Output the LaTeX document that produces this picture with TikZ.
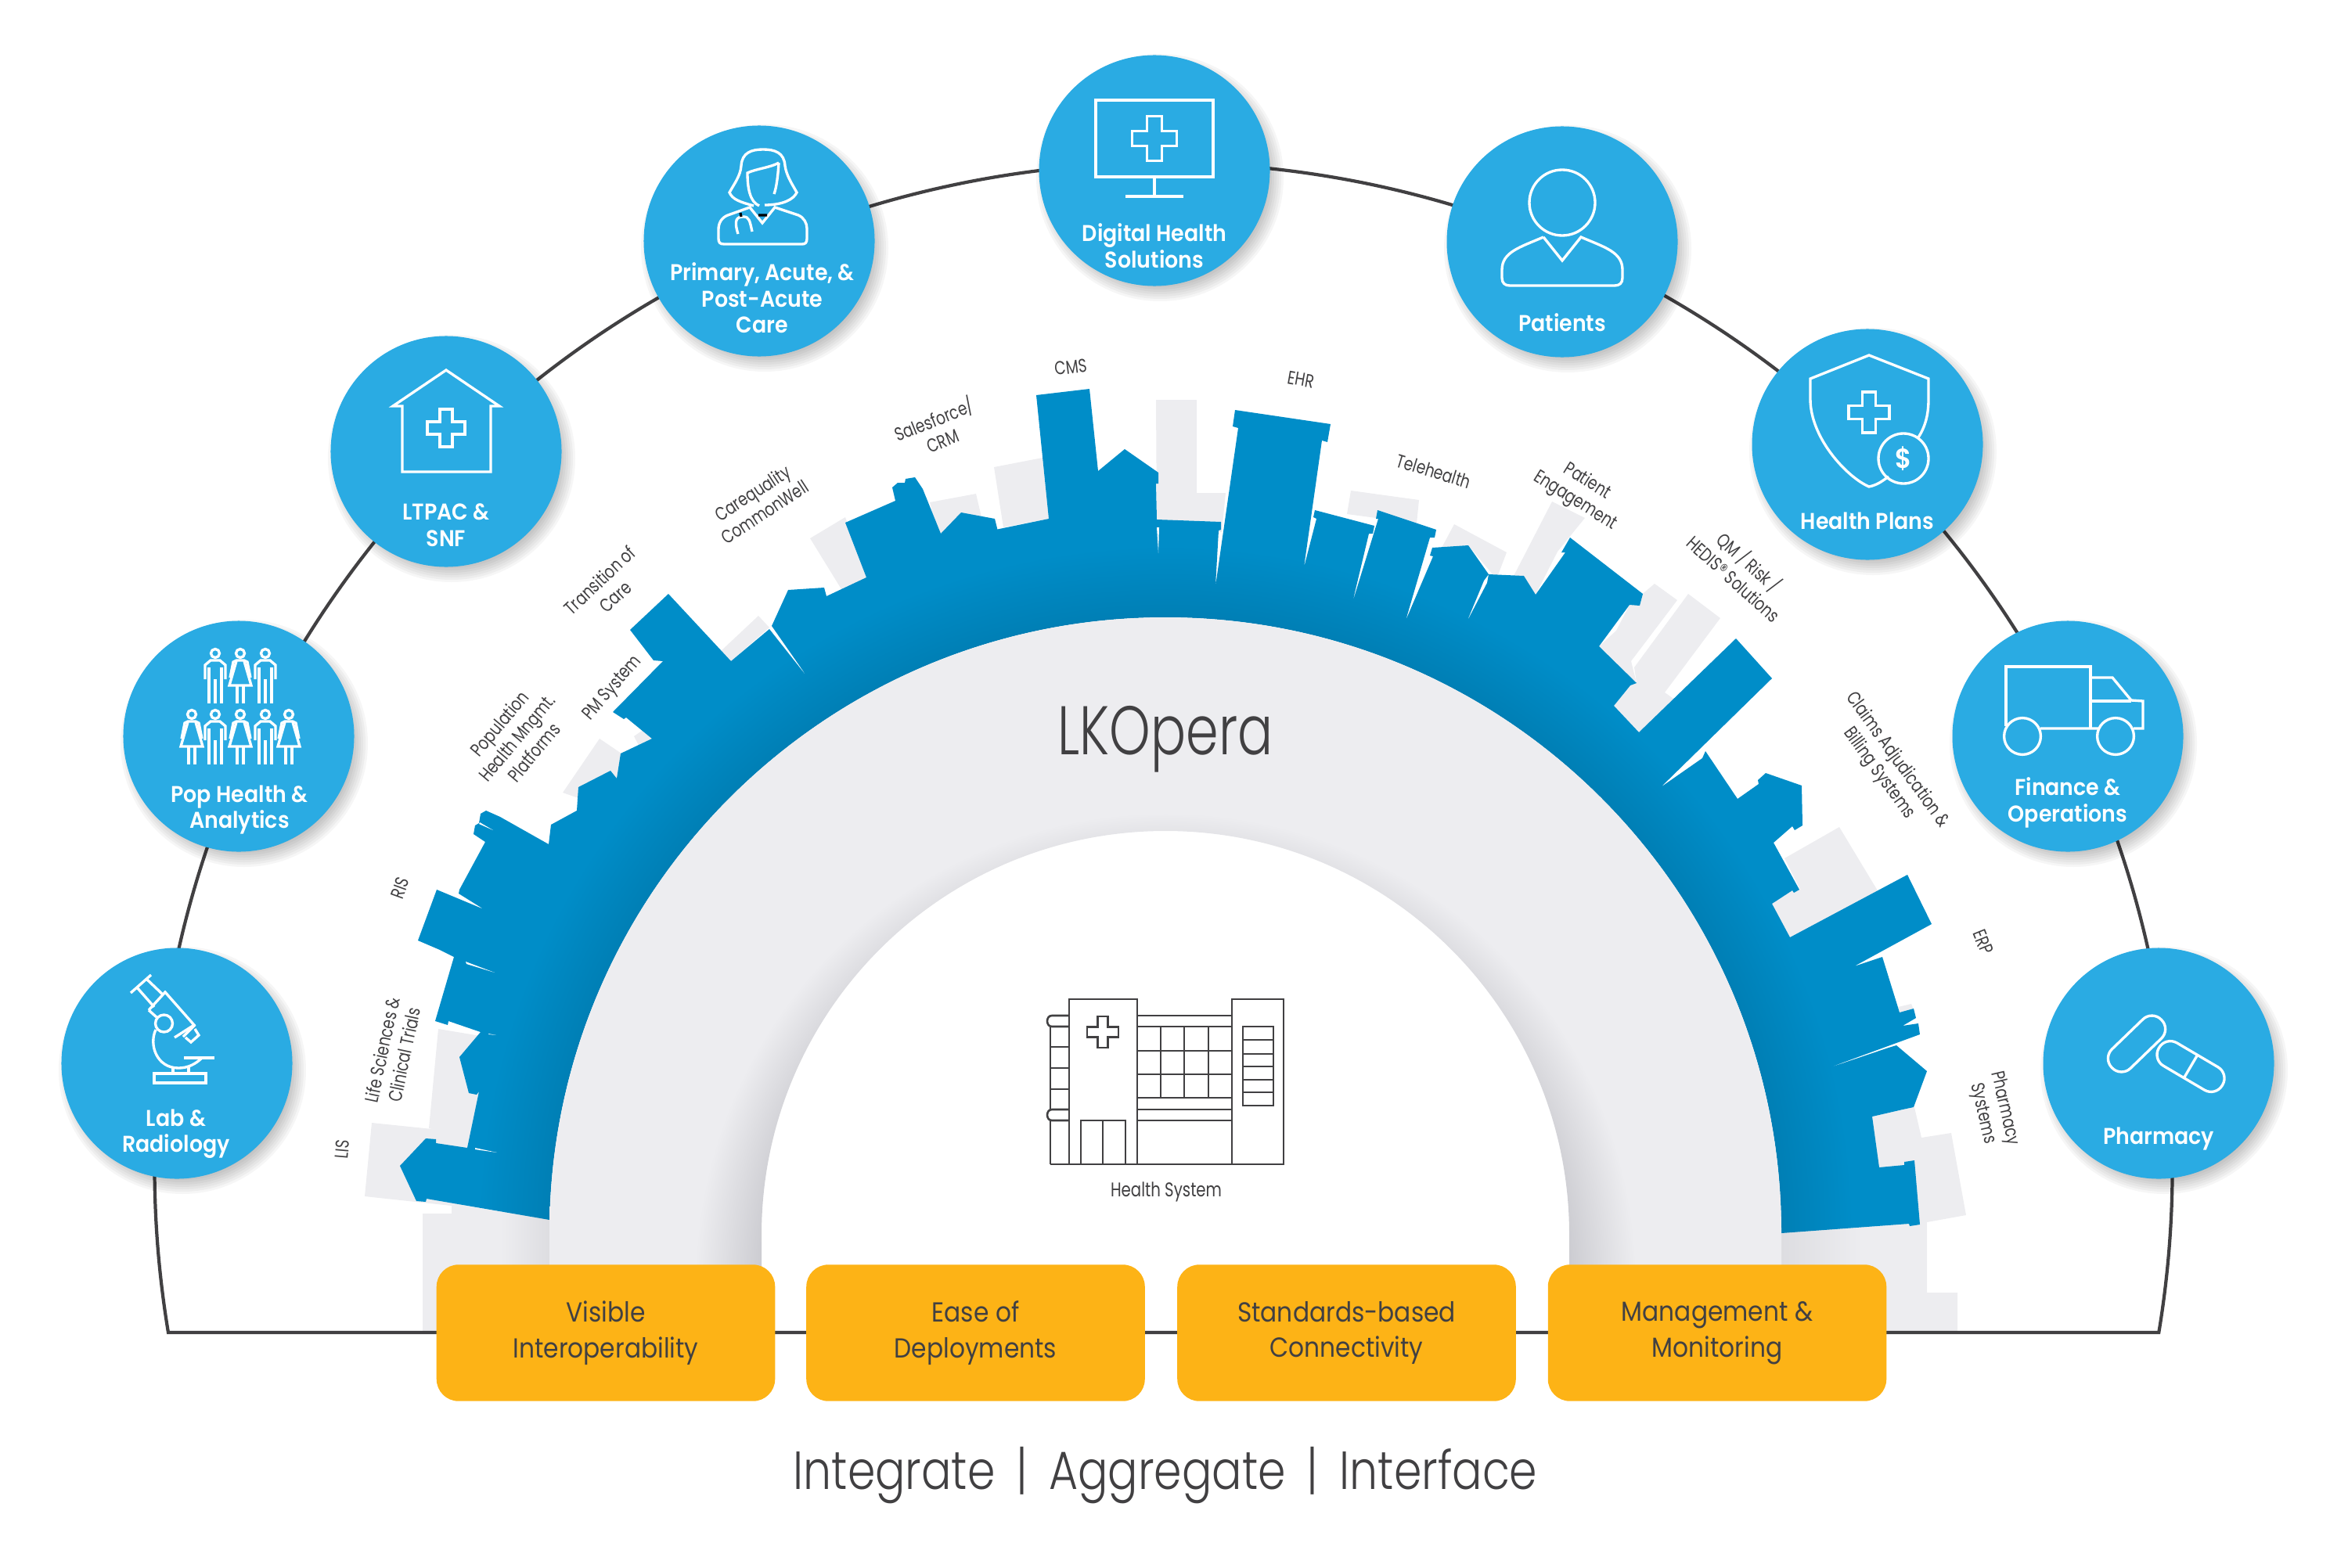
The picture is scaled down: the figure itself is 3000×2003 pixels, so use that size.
\documentclass[tikz,border=0pt]{standalone}
\usepackage{fontspec}
\setmainfont{Poppins}
\newfontfamily\hubfont[FakeStretch=0.92]{Poppins SemiBold}
\newfontfamily\thinfont[FakeStretch=0.83]{Poppins Light}
\newfontfamily\operafont[FakeStretch=0.76]{Poppins Light}
\newfontfamily\cityfont[FakeStretch=0.78]{Poppins}
\newfontfamily\boxfont[FakeStretch=0.89]{Poppins}
\definecolor{hubblue}{HTML}{2AABE3}
\definecolor{cityblue}{HTML}{008DC8}
\definecolor{citydeep}{HTML}{007FB5}
\definecolor{archgrey}{HTML}{EDEDF0}
\definecolor{archdeep}{HTML}{CDCDD2}
\definecolor{pillaryellow}{HTML}{FDB316}
\definecolor{inkgrey}{HTML}{414042}
\pgfdeclareradialshading{cityshade}{\pgfpoint{0bp}{0bp}}{color(0bp)=(citydeep); color(16.4bp)=(citydeep); color(18.3bp)=(cityblue); color(50bp)=(cityblue)}
\pgfdeclareradialshading{archshade}{\pgfpoint{0bp}{0bp}}{color(0bp)=(archdeep); color(14.4bp)=(archdeep); color(16.7bp)=(archgrey); color(50bp)=(archgrey)}
\tikzset{
    hubcircle/.style={circle, fill=hubblue, minimum size=83.9pt, inner sep=0pt},
    hublabel/.style={text=white, align=center, inner sep=0pt, font=\hubfont\fontsize{8.3}{9.5}\selectfont},
    citylabel/.style={text=inkgrey, align=center, inner sep=0pt, font=\cityfont\fontsize{6.8}{8.2}\selectfont},
    pillarbox/.style={rounded corners=8pt, fill=pillaryellow, minimum width=123pt, minimum height=49.6pt, inner sep=0pt,
        text=inkgrey, align=center, font=\boxfont\fontsize{10}{13}\selectfont},
    building/.style={fill=archgrey},
    icon/.style={color=white, line width=0.95pt},
    plan/.style={color=inkgrey, line width=0.75pt},
    man/.pic={
        \draw (0,7) circle (5.5);
        \draw (-13,40) -- (-13,22) -- (-6,16) -- (6,16) -- (13,22) -- (13,40);
        \draw (-8,25) -- (-8,71) (8,25) -- (8,71) (0,40) -- (0,71);
    },
    woman/.pic={
        \draw (0,7) circle (5.5);
        \draw (-13,38) -- (-9,18) -- (-5,16) -- (5,16) -- (9,18) -- (13,38);
        \draw (-5,17) -- (-14,48) -- (14,48) -- (5,17);
        \draw (-4,48) -- (-4,71) (4,48) -- (4,71);
    },
    medcross/.pic={
        \draw (-8,-24) -- (8,-24) -- (8,-8) -- (24,-8) -- (24,8) -- (8,8) -- (8,24) -- (-8,24) -- (-8,8) -- (-24,8) -- (-24,-8) -- (-8,-8) -- cycle;
    },
}
\begin{document}
\begin{tikzpicture}[x=0.01cm, y=-0.01cm]
    \useasboundingbox (0,0) rectangle (3000,2003);
    % buildings behind the skyline
    \fill[building] (475,1435) -- (620,1450) -- (620,1540) -- (577,1541) -- (466,1529) -- cycle;
    \fill[building] (560,1315) -- (548,1442) -- (620,1460) -- (620,1325) -- cycle;
    \fill[building] (540,1551) -- (577,1551) -- (577,1538) -- (702,1559) -- (702,1703) -- (540,1703) -- cycle;
    \fill[building] (719,1013) -- (766,944) -- (794,963) -- (794,1000) -- (739,1020) -- cycle;
    \fill[building] (810,941) -- (823,932) -- (840,948) -- (820,960) -- cycle;
    \fill[building] (920,833) -- (969,787) -- (983,802) -- (934,845) -- cycle;
    \fill[building] (1035,688) -- (1080,661) -- (1110,745) -- (1075,753) -- cycle;
    \fill[building] (1188,642) -- (1247,631) -- (1255,665) -- (1200,690) -- cycle;
    \fill[building] (1270,597) -- (1332,585) -- (1340,663) -- (1282,674) -- cycle;
    \fill[building] (1477,511) -- (1529,511) -- (1529,630) -- (1566,630) -- (1561,680) -- (1478,680) -- cycle;
    \fill[building] (1726,627) -- (1813,639) -- (1810,669) -- (1721,657) -- cycle;
    \fill[building] (1858,670) -- (1925,706) -- (1912,740) -- (1876,697) -- (1842,700) -- cycle;
    \fill[building] (1983,641) -- (2025,662) -- (1990,705) -- (1962,760) -- (1934,736) -- cycle;
    \fill[building] (2114,746) -- (2143,767) -- (2084,845) -- (2091,873) -- (2043,826) -- (2065,806) -- (2082,773) -- cycle;
    \fill[building] (2157,759) -- (2198,790) -- (2127,885) -- (2141,895) -- (2094,936) -- (2062,902) -- (2083,876) -- (2091,873) -- (2088,853) -- cycle;
    \fill[building] (2280,1097) -- (2350,1057) -- (2400,1140) -- (2287,1198) -- (2264,1155) -- (2290,1138) -- (2300,1137) -- cycle;
    \fill[building] (2425,1287) -- (2442,1283) -- (2445,1290) -- (2430,1300) -- cycle;
    \fill[building] (2392,1427) -- (2446,1415) -- (2455,1454) -- (2493,1448) -- (2512,1553) -- (2462,1562) -- (2462,1652) -- (2501,1652) -- (2501,1703) -- (2270,1703) -- (2270,1500) -- cycle;
    \shade[left color=archdeep!50!archgrey, right color=archgrey] (2276,1570) rectangle (2380,1703);
    \shade[left color=archgrey, right color=archdeep!50!archgrey] (640,1549) rectangle (702,1703);
    % ring line
    \coordinate (ringstart) at (215,1703);
    \draw[inkgrey, line width=1.2pt] (ringstart) arc[start angle=170.6, end angle=369.4, x radius=1289, y radius=1285] -- cycle;
    % blue skyline
    \begin{scope}
        \clip (702,1559) -- (545,1532) -- (544,1536) -- (532,1535) -- (511,1490) -- (544,1455) -- (557,1456) -- (557,1461) -- (597,1467)
            -- (612,1395) -- (609,1399) -- (599,1397) -- (587,1351) -- (614,1319) -- (573,1305) -- (572,1310) -- (556,1305)
            -- (580,1223) -- (562,1214) -- (534,1202) -- (558,1137) -- (618,1162) -- (586,1142) -- (587,1137) -- (620,1076)
            -- (605,1066) -- (607,1055) -- (612,1052) -- (614,1040) -- (621,1036) -- (639,1044) -- (701,1079) -- (704,1054)
            -- (737,1036) -- (739,1006) -- (780,985) -- (788,995) -- (793,963) -- (833,944) -- (800,917) -- (797,919) -- (783,910)
            -- (847,845) -- (835,844) -- (805,805) -- (854,759) -- (934,845) -- (983,804) -- (1032,866) -- (986,800) -- (1007,754)
            -- (1053,751) -- (1056,762) -- (1107,738) -- (1080,668) -- (1144,640) -- (1140,623) -- (1147,617) -- (1156,617)
            -- (1157,612) -- (1169,610) -- (1179,625) -- (1202,682) -- (1228,655) -- (1271,663) -- (1274,675) -- (1277,695)
            -- (1272,677) -- (1340,663) -- (1324,505) -- (1392,497) -- (1403,602) -- (1437,574) -- (1480,604) -- (1480,618)
            -- (1477,618) -- (1478,664) -- (1560,667) -- (1560,677) -- (1557,678) -- (1553,749) -- (1582,547) -- (1575,545)
            -- (1578,524) -- (1700,542) -- (1696,565) -- (1689,563) -- (1666,725) -- (1682,663) -- (1678,661) -- (1680,652)
            -- (1756,672) -- (1754,682) -- (1749,682) -- (1728,770) -- (1761,663) -- (1758,663) -- (1760,652) -- (1835,677)
            -- (1833,687) -- (1827,687) -- (1796,793) -- (1831,711) -- (1827,710) -- (1830,700) -- (1876,697) -- (1902,734)
            -- (1896,742) -- (1874,795) -- (1900,745) -- (1902,734) -- (1947,736) -- (1962,760) -- (2000,706) -- (1995,706)
            -- (2006,687) -- (2099,759) -- (2095,774) -- (2082,773) -- (2043,826) -- (2091,873) -- (2083,876) -- (2062,902)
            -- (2094,936) -- (2218,816) -- (2264,867) -- (2122,1006) -- (2175,969) -- (2179,960) -- (2220,1021) -- (2247,1002)
            -- (2246,997) -- (2256,988) -- (2302,1004) -- (2303,1055) -- (2293,1061) -- (2290,1056) -- (2266,1077) -- (2299,1137)
            -- (2292,1141) -- (2290,1138) -- (2264,1155) -- (2287,1198) -- (2437,1118) -- (2468,1181) -- (2369,1235) -- (2405,1223)
            -- (2427,1294) -- (2445,1289) -- (2448,1301) -- (2431,1311) -- (2451,1308) -- (2453,1322) -- (2330,1367) -- (2413,1339)
            -- (2423,1336) -- (2462,1369) -- (2445,1415) -- (2431,1418) -- (2392,1427) -- (2401,1492) -- (2433,1489) -- (2433,1485)
            -- (2446,1483) -- (2453,1565) -- (2440,1567) -- (2439,1564) -- (2276,1576) arc (0:-180:787) -- cycle;
        \shade[shading=cityshade] (1489,1576) circle (1200);
    \end{scope}
    \fill[white] (607,1467) -- (635,1473) -- (607,1469) -- cycle;
    \fill[white] (595,1229) -- (632,1243) -- (596,1232) -- cycle;
    \fill[white] (624,1321) -- (634,1323) -- (625,1322) -- cycle;
    \fill[white] (613,1051) -- (630,1061) -- (612,1053) -- cycle;
    \fill[white] (1478,674) -- (1480,707) -- (1481,674) -- cycle;
    % grey arch
    \begin{scope}
        \clip (702,1703) -- (702,1576) arc (-180:0:787) -- (2276,1703) -- (2005,1703) -- (2005,1578) arc (0:-180:516) -- (973,1703) -- cycle;
        \shade[shading=archshade] (1489,1640) circle (900);
    \end{scope}
    \node[text=inkgrey, inner sep=0pt] (opera) at (1489,945) {\operafont\fontsize{25}{25}\selectfont LKOpera};
    \node[citylabel, font=\cityfont\fontsize{7.2}{8}\selectfont] (healthsystem) at (1490,1523) {Health System};
    % hospital
    \begin{scope}[plan]
        \draw (1342,1488) -- (1640,1488) -- (1640,1277) -- (1574,1277) -- (1574,1488);
        \draw (1366,1488) -- (1366,1277) -- (1453,1277) -- (1453,1488);
        \draw (1366,1298) -- (1344,1298) .. controls (1336,1298) and (1336,1312) .. (1344,1312) -- (1366,1312);
        \draw (1366,1418) -- (1344,1418) .. controls (1336,1418) and (1336,1432) .. (1344,1432) -- (1366,1432);
        \draw (1342,1312) -- (1342,1418) (1342,1432) -- (1342,1488);
        \draw (1342,1338) -- (1366,1338) (1342,1365) -- (1366,1365) (1342,1392) -- (1366,1392);
        \draw (1381,1488) -- (1381,1432) -- (1438,1432) -- (1438,1488) (1409,1432) -- (1409,1488);
        \foreach \y in {1298,1312,1343,1373,1403,1418,1432}
            \draw (1453,\y) -- (1574,\y);
        \foreach \x in {1483,1513,1544}
            \draw (\x,1312) -- (\x,1403);
        \draw (1588,1312) rectangle (1627,1413);
        \foreach \y in {1329,1347,1363,1380,1396}
            \draw (1588,\y) -- (1627,\y);
        \pic[scale=0.83] at (1409,1319) {medcross};
    \end{scope}
    % hubs on the ring
    \foreach \hubname/\hx/\hy in {lab/226/1359, pop/305/941, ltpac/570/577, primary/970/308, digital/1475/218,
        patients/1996/309, plans/2386/568, finance/2642/941, pharmacy/2758/1359}{
        \foreach \r in {134,137,...,158}
            \fill[black, opacity=0.035] (\hx+7,\hy+9) circle (\r);
        \node[hubcircle] (\hubname) at (\hx,\hy) {};
    }
    \node[hublabel] (lablabel) at (225,1449) {Lab \&\\Radiology};
    \node[hublabel] (poplabel) at (306,1035) {Pop Health \&\\Analytics};
    \node[hublabel] (ltpaclabel) at (570,671) {LTPAC \&\\SNF};
    \node[hublabel] (primarylabel) at (974,381) {Primary, Acute, \&\\Post-Acute\\Care};
    \node[hublabel] (digitallabel) at (1475,314) {Digital Health\\Solutions};
    \node[hublabel] (patientslabel) at (1996,412) {Patients};
    \node[hublabel] (planslabel) at (2386,666) {Health Plans};
    \node[hublabel] (financelabel) at (2642,1026) {Finance \&\\Operations};
    \node[hublabel] (pharmacylabel) at (2758,1456) {Pharmacy};
    % white icons
    \begin{scope}[icon]
        % microscope
        \draw (167,1269) -- (193,1246) (175,1262) -- (197,1287) (187,1251) -- (209,1272);
        \draw (190,1291) -- (211,1268) -- (248,1310) -- (223,1326) (190,1291) -- (200,1300);
        \draw (234,1325) -- (249,1310) (249,1315) -- (254,1323) -- (244,1332) -- (237,1326);
        \draw (209.5,1308) circle (11);
        \draw (199,1316) .. controls (190,1335) and (200,1365) .. (228,1365) .. controls (240,1365) and (250,1360) .. (258,1352);
        \draw (235,1352) -- (274,1352);
        \draw (197,1372) rectangle (263,1384);
        \draw (221,1365) -- (221,1372) (241,1362) -- (241,1372);
        % population
        \foreach \x/\kind in {275/man, 307/woman, 339/man}
            \pic at (\x,828) {\kind};
        \foreach \x/\kind in {245/woman, 275/man, 307/woman, 339/man, 369/woman}
            \pic at (\x,906) {\kind};
        % house
        \draw (502,519) -- (570,473) -- (638,519) -- (627,519) -- (627,603) -- (514,603) -- (514,519) -- cycle;
        \pic at (570,547) {medcross};
        % doctor
        \draw (963,263) .. controls (945,258) and (936,255) .. (932,246) .. controls (938,235) and (946,225) .. (947,212)
            .. controls (948,195) and (960,191) .. (975,191) .. controls (990,191) and (1002,195) .. (1003,212)
            .. controls (1005,225) and (1012,235) .. (1018,246) .. controls (1014,255) and (1000,262) .. (977,262);
        \draw (995,208) .. controls (985,214) and (965,216) .. (955,221) .. controls (955,240) and (958,258) .. (970,263);
        \draw (995,208) .. controls (994,225) and (992,240) .. (989,248);
        \draw (958,265) -- (974,285) -- (990,265) -- (1020,275) .. controls (1027,278) and (1031,285) .. (1031,292) -- (1031,305)
            .. controls (1031,310) and (1029,312) .. (1025,312) -- (925,312) .. controls (920,312) and (918,310) .. (918,305) -- (918,293)
            .. controls (918,285) and (922,278) .. (930,275) -- cycle;
        \draw (943,299) .. controls (937,280) and (942,277) .. (950,277) .. controls (957,277) and (958,282) .. (961,296);
        \draw[black, line width=0.9pt] (946,272) -- (947,277) (969,275) -- (980,275);
        % monitor
        \draw (1400,128) rectangle (1550,226);
        \draw (1475,226) -- (1475,251) (1438,251) -- (1512,251);
        \pic[scale=1.2] at (1475,177) {medcross};
        % patient
        \draw (1996,259) circle (42);
        \draw (1972,303) -- (1996,333) -- (2020,303) .. controls (2050,316) and (2073,322) .. (2073,345) -- (2073,355)
            .. controls (2073,362) and (2069,365) .. (2063,365) -- (1929,365) .. controls (1923,365) and (1919,362) .. (1919,355)
            -- (1919,345) .. controls (1919,322) and (1942,316) .. (1972,303);
        % shield
        \draw (2451,559) .. controls (2460,545) and (2464,530) .. (2464,510) -- (2464,484) -- (2388,454) -- (2313,484) -- (2313,510)
            .. controls (2313,560) and (2360,610) .. (2388,622) .. controls (2398,620) and (2405,615) .. (2413,609);
        \pic[scale=1.08] at (2388,527) {medcross};
        \draw (2432,586) circle (32);
        \node[inner sep=0pt, text=white, font=\hubfont\fontsize{10}{10}\selectfont] (dollar) at (2432,586) {\$};
        % truck
        \draw (2563,928) -- (2563,852) -- (2671,852) -- (2671,931);
        \draw (2607,931) -- (2681,931) (2671,866) -- (2699,866) -- (2723,895) -- (2738,896) -- (2738,931) -- (2726,931);
        \draw (2671,896) -- (2723,896);
        \draw (2584,941) circle (23.4) (2703,941) circle (23.4);
        % pills
        \draw[shift={(2730,1334)}, rotate=44, rounded corners=4.7pt] (-44,-17) rectangle (44,17);
        \begin{scope}[shift={(2799,1363)}, rotate=-30.5]
            \draw[rounded corners=4.7pt] (-47,-17) rectangle (47,17);
            \draw (0,-17) -- (0,17);
        \end{scope}
    \end{scope}
    % skyline labels
    \node[citylabel, rotate=85] (lis) at (437,1469) {LIS};
    \node[citylabel, rotate=78] (lifesci) at (502,1345) {Life Sciences \&\\Clinical Trials};
    \node[citylabel, rotate=70] (ris) at (511,1135) {RIS};
    \node[citylabel, rotate=50] (population) at (660,943) {Population\\Health Mngmt.\\Platforms};
    \node[citylabel, rotate=49] (pmsystem) at (783,880) {PM System};
    \node[citylabel, rotate=43] (transition) at (776,752) {Transition of\\Care};
    \node[citylabel, rotate=33] (carequality) at (969,642) {Carequality\\CommonWell};
    \node[citylabel, rotate=22] (salesforce) at (1198,548) {Salesforce/\\CRM};
    \node[citylabel, rotate=7] (cms) at (1368,469) {CMS};
    \node[citylabel, rotate=-10] (ehr) at (1662,485) {EHR};
    \node[citylabel, rotate=-17] (telehealth) at (1832,602) {Telehealth};
    \node[citylabel, rotate=-32] (engagement) at (2020,628) {Patient\\Engagement};
    \node[citylabel, rotate=-42] (qm) at (2226,728) {QM / Risk /\\HEDIS\textregistered{} Solutions};
    \node[citylabel, rotate=-54] (claims) at (2412,980) {Claims Adjudication \&\\Billing Systems};
    \node[citylabel, rotate=-68] (erp) at (2534,1204) {ERP};
    \node[citylabel, rotate=-77] (pharmsys) at (2547,1420) {Pharmacy\\Systems};
    % yellow boxes
    \node[pillarbox] (visible) at (774,1703.5) {Visible\\Interoperability};
    \node[pillarbox] (ease) at (1246.5,1703.5) {Ease of\\Deployments};
    \node[pillarbox] (standards) at (1720.5,1703.5) {Standards-based\\Connectivity};
    \node[pillarbox] (management) at (2194,1703.5) {Management \&\\Monitoring};
    \node[anchor=base, text=inkgrey, inner sep=0pt] (motto) at (1489,1903) {\thinfont\fontsize{19.5}{20}\selectfont Integrate \,|\, Aggregate \,|\, Interface};
\end{tikzpicture}
\end{document}
